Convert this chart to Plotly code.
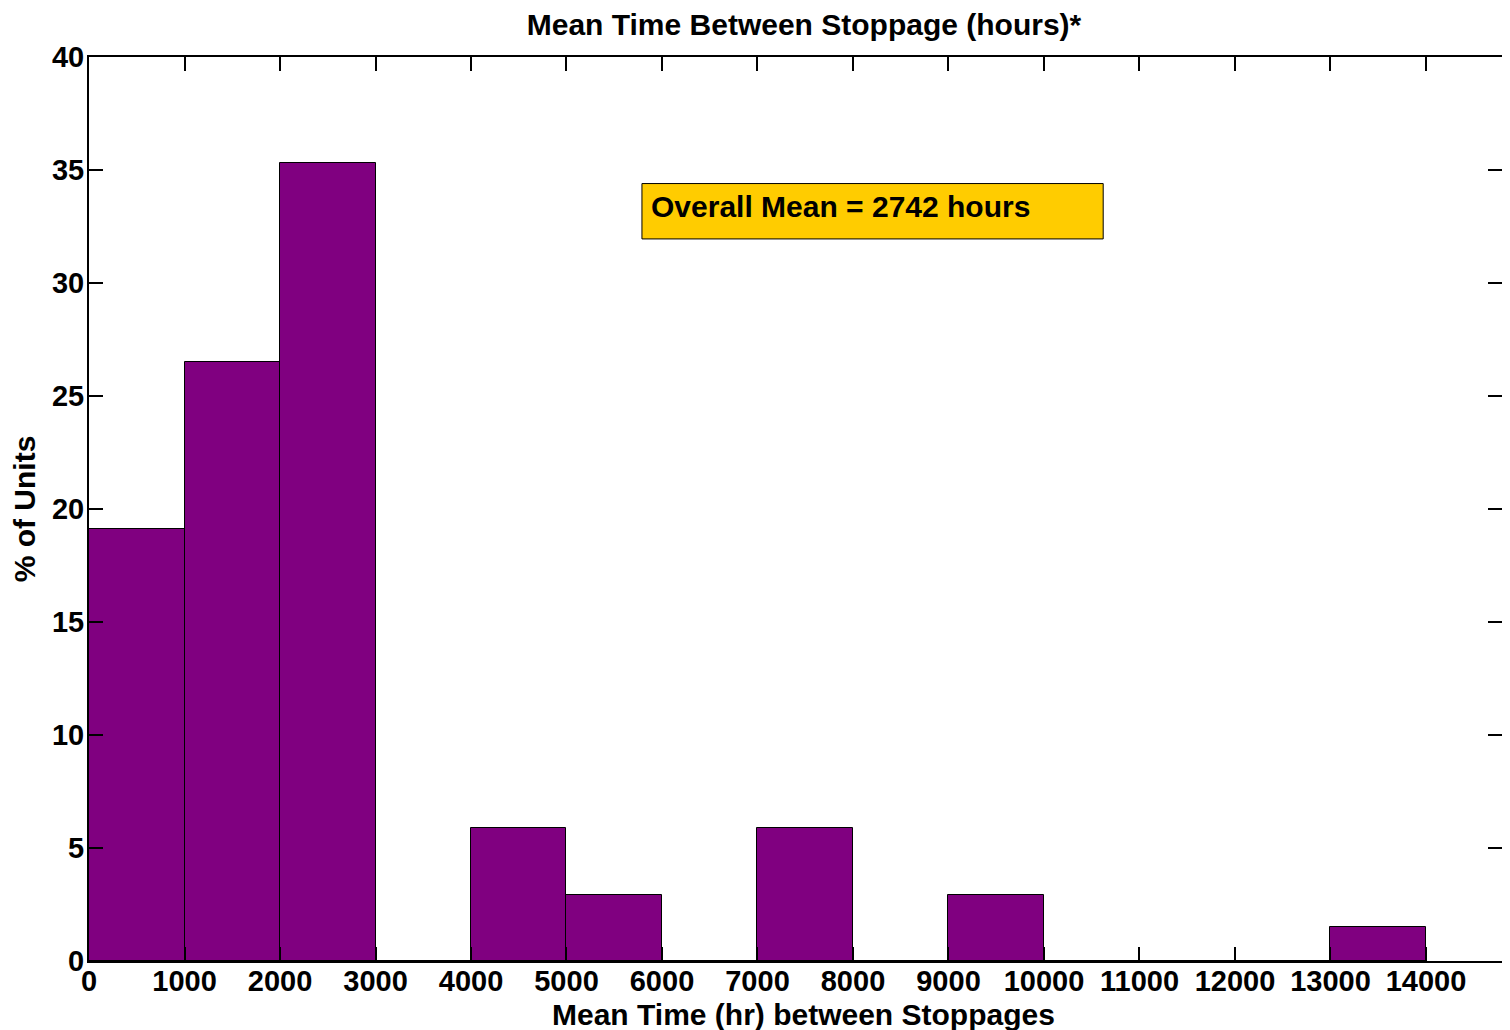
import plotly.graph_objects as go

bin_starts = [0, 1000, 2000, 3000, 4000, 5000, 6000, 7000, 8000, 9000, 10000, 11000, 12000, 13000]
pct_units = [19.1, 26.5, 35.3, 0, 5.9, 2.9, 0, 5.9, 0, 2.9, 0, 0, 0, 1.5]
x_ticks = list(range(0, 15000, 1000))
y_ticks = [0, 5, 10, 15, 20, 25, 30, 35, 40]

FONT = "Liberation Sans, Arial, sans-serif"
W, H = 1494, 1022

fig = go.Figure()
fig.add_trace(go.Bar(
    x=bin_starts, y=pct_units, width=1000, offset=0,
    marker=dict(color="#800080", line=dict(color="black", width=1)),
    showlegend=False,
))

axis_common = dict(
    showline=True, linecolor="black", linewidth=2, mirror="ticks",
    ticks="inside", ticklen=14, tickwidth=1.5, tickcolor="black",
    showgrid=False, zeroline=False, automargin=False,
    tickfont=dict(family=FONT, size=29, color="black", weight="bold"),
)

fig.update_layout(
    width=W, height=H,
    margin=dict(l=81, r=0, t=49, b=69),
    paper_bgcolor="white", plot_bgcolor="white",
    bargap=0,
    title=dict(text="Mean Time Between Stoppage (hours)*", x=(804 - 8) / W, xanchor="center",
               y=1 - 16 / H, yanchor="middle", yref="container",
               font=dict(family=FONT, size=30, color="black", weight="bold")),
    xaxis=dict(range=[0, 14796], tickvals=x_ticks, ticktext=[str(v) for v in x_ticks],
               ticklabelstandoff=-7,
               **axis_common),
    yaxis=dict(range=[0, 40], tickvals=y_ticks,
               title=dict(text="% of Units", standoff=14,
                          font=dict(family=FONT, size=30, color="black", weight="bold")),
               ticklabelstandoff=-3,
               **axis_common),
)

# x-axis title placed as an annotation so it can sit close to the tick labels
fig.add_annotation(x=(803.5 - 89) / 1413, y=0, xref="paper", yref="paper",
                   xanchor="center", yanchor="middle", yshift=-53, showarrow=False,
                   text="Mean Time (hr) between Stoppages",
                   font=dict(family=FONT, size=30, color="black", weight="bold"))

fig.add_shape(type="rect", xref="x", yref="y", x0=5790, x1=10620, y0=31.95, y1=34.4,
              fillcolor="#FFCC00", line=dict(color="black", width=1), layer="above")
fig.add_annotation(x=5790, y=33.4, xref="x", yref="y", xanchor="left", yanchor="middle",
                   xshift=7, showarrow=False, text="Overall Mean = 2742 hours",
                   font=dict(family=FONT, size=30, color="black", weight="bold"))

fig.write_html("out.html")
